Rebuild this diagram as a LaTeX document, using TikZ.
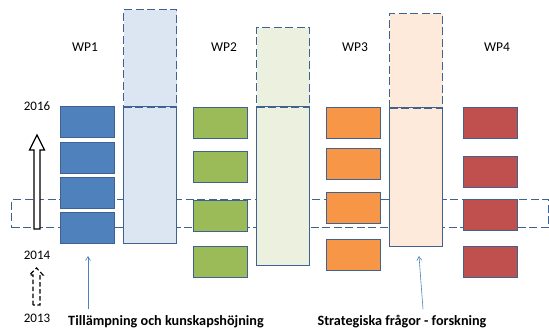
\documentclass[tikz,border=0pt]{standalone}
\usepackage{fontspec}
\setmainfont{Carlito}
\usetikzlibrary{arrows.meta}
\definecolor{edge}{HTML}{3F6290}
\definecolor{cblue}{HTML}{4F81BD}
\definecolor{lblue}{HTML}{DCE6F2}
\definecolor{cgreen}{HTML}{9BBB59}
\definecolor{lgreen}{HTML}{EBF1DE}
\definecolor{corange}{HTML}{F79646}
\definecolor{lorange}{HTML}{FDEADA}
\definecolor{cred}{HTML}{C0504D}
\tikzset{
  wbox/.style={draw=edge, line width=1.3pt, minimum width=54pt, minimum height=31pt, anchor=north west, inner sep=0pt},
  tallbar/.style={draw=edge, line width=1.1pt, minimum width=53pt, anchor=north west, inner sep=0pt},
  dashline/.style={draw=edge, line width=1.3pt, dash pattern=on 8pt off 3.5pt},
  dashbar/.style={dashline, minimum width=53pt, anchor=north west, inner sep=0pt},
  wplabel/.style={font=\fontsize{13.5}{15}\selectfont},
  yearlabel/.style={font=\fontsize{13}{15}\selectfont},
  bottomlabel/.style={font=\fontsize{14.2}{16}\selectfont\bfseries},
  thinarrow/.style={draw=cblue, line width=0.6pt, -{Straight Barb[length=4pt,width=5pt]}},
}
\begin{document}
\begin{tikzpicture}[x=1pt,y=-1pt]
\useasboundingbox (0,0) rectangle (549,331);
% dashed band
\node[dashline, minimum width=537pt, minimum height=28pt, anchor=north west, inner sep=0pt] (band) at (11,199) {};
% tall bars
\node[tallbar, fill=lblue, minimum height=136pt] (bar1) at (123,107) {};
\node[dashbar, fill=lblue, minimum height=98pt] (bar1top) at (123,9) {};
\node[tallbar, fill=lgreen, minimum height=158pt] (bar2) at (256,107) {};
\node[dashbar, fill=lgreen, minimum height=80pt] (bar2top) at (256,27) {};
\node[tallbar, fill=lorange, minimum height=138pt] (bar3) at (389,108) {};
\node[dashbar, fill=lorange, minimum height=95pt] (bar3top) at (389,13) {};
\draw[draw=edge, line width=1pt] (bar1.north west) -- (bar1.north east);
\draw[draw=edge, line width=1pt] (bar2.north west) -- (bar2.north east);
\draw[draw=edge, line width=1pt] (bar3.north west) -- (bar3.north east);
% WP1 boxes
\node[wbox, fill=cblue] (a1) at (60,106) {};
\node[wbox, fill=cblue] (a2) at (60,142) {};
\node[wbox, fill=cblue] (a3) at (60,177) {};
\node[wbox, fill=cblue] (a4) at (60,212) {};
% WP2 boxes
\node[wbox, fill=cgreen] (b1) at (193,107) {};
\node[wbox, fill=cgreen] (b2) at (193,151) {};
\node[wbox, fill=cgreen] (b3) at (193,200) {};
\node[wbox, fill=cgreen] (b4) at (193,246) {};
% WP3 boxes
\node[wbox, fill=corange] (c1) at (326,107) {};
\node[wbox, fill=corange] (c2) at (326,148) {};
\node[wbox, fill=corange] (c3) at (326,192) {};
\node[wbox, fill=corange] (c4) at (326,239) {};
% WP4 boxes
\node[wbox, fill=cred] (d1) at (463,107) {};
\node[wbox, fill=cred] (d2) at (463,156) {};
\node[wbox, fill=cred] (d3) at (463,199) {};
\node[wbox, fill=cred] (d4) at (463,246) {};
% WP labels
\node[wplabel] (wp1) at (85,47) {WP1};
\node[wplabel] (wp2) at (224,47) {WP2};
\node[wplabel] (wp3) at (355,47) {WP3};
\node[wplabel] (wp4) at (497,47) {WP4};
% years
\node[yearlabel] (y2016) at (37,106) {2016};
\node[yearlabel] (y2014) at (37,255) {2014};
\node[yearlabel] (y2013) at (37,318) {2013};
% hollow arrow
\draw[line width=1.3pt, fill=white] (34,229) -- (34,150) -- (29.5,150) -- (37,135) -- (44.5,150) -- (40,150) -- (40,229) -- cycle;
% dashed hollow arrow
\draw[line width=1.2pt, dash pattern=on 4.5pt off 2.5pt] (33,305) -- (33,275) -- (29.5,275) -- (36.5,268) -- (43,275) -- (40,275) -- (40,305) -- cycle;
% bottom labels
\node[bottomlabel] (t1) at (166,322) {Tillämpning och kunskapshöjning};
\node[bottomlabel] (t2) at (402,322) {Strategiska frågor - forskning};
\coordinate (p1) at (88,256);
\coordinate (p2) at (419,256);
\draw[thinarrow] (88,309) -- (p1);
\draw[thinarrow] (423,309) -- (p2);
\end{tikzpicture}
\end{document}
